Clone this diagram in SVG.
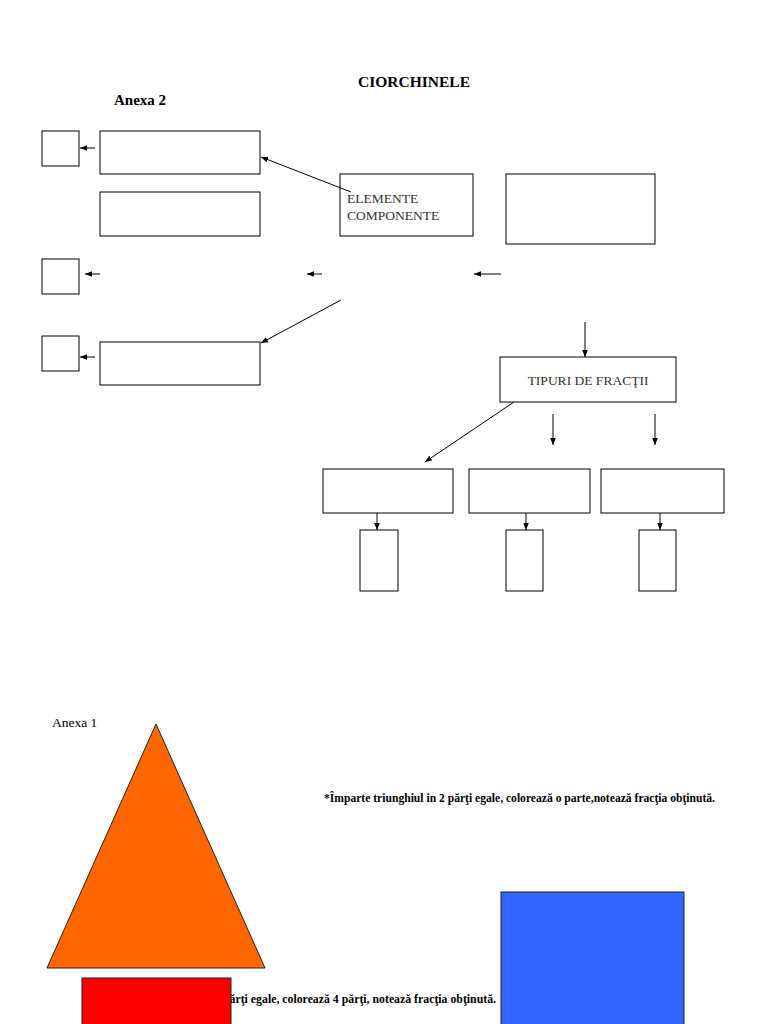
<svg xmlns="http://www.w3.org/2000/svg" width="768" height="1024" viewBox="0 0 768 1024">
<defs>
<style>
.box{fill:#fff;stroke:#000;stroke-width:1}
.ln{stroke:#000;stroke-width:1;fill:none}
.arr{stroke:#000;stroke-width:1;fill:none;marker-end:url(#ah)}
.t{font-family:"Liberation Serif","Times New Roman",serif;fill:#000}
.tb{font-family:"Liberation Serif","Times New Roman",serif;font-weight:bold;fill:#000}
.tg{font-family:"Liberation Serif","Times New Roman",serif;fill:#333}
</style>
<marker id="ah" viewBox="0 0 10 10" refX="10" refY="5" markerWidth="7" markerHeight="7" markerUnits="userSpaceOnUse" orient="auto">
<path d="M0,1 L10,5 L0,9 Z" fill="#000"/>
</marker>
</defs>
<rect width="768" height="1024" fill="#fff"/>
<text class="tb" x="414" y="87" font-size="15.5" text-anchor="middle">CIORCHINELE</text>
<text class="tb" x="114" y="105" font-size="15">Anexa 2</text>

<g id="sq1"><rect class="box" x="42" y="131" width="37" height="35"/></g>
<g id="boxA"><rect class="box" x="100" y="131" width="160" height="43"/></g>
<g id="boxB"><rect class="box" x="100" y="192" width="160" height="44"/></g>
<g id="elemente"><rect class="box" x="340" y="174" width="133" height="62"/>
<text class="tg" x="347" y="203" font-size="13.5">ELEMENTE</text>
<text class="tg" x="347" y="220" font-size="13.5">COMPONENTE</text></g>
<g id="boxR"><rect class="box" x="506" y="174" width="149" height="70"/></g>
<g id="sq2"><rect class="box" x="42" y="259" width="37" height="35"/></g>
<g id="sq3"><rect class="box" x="42" y="336" width="37" height="35"/></g>
<g id="boxC"><rect class="box" x="100" y="342" width="160" height="43"/></g>
<g id="tipuri"><rect class="box" x="500" y="357" width="176" height="45"/>
<text class="tg" x="588" y="385" font-size="13.5" text-anchor="middle">TIPURI DE FRACŢII</text></g>
<g id="f1"><rect class="box" x="323" y="469" width="130" height="44"/></g>
<g id="f2"><rect class="box" x="469" y="469" width="121" height="44"/></g>
<g id="f3"><rect class="box" x="601" y="469" width="123" height="44"/></g>
<g id="s1"><rect class="box" x="360" y="530" width="38" height="61"/></g>
<g id="s2"><rect class="box" x="506" y="530" width="37" height="61"/></g>
<g id="s3"><rect class="box" x="639" y="530" width="37" height="61"/></g>

<g id="connectors">
<line class="arr" x1="95" y1="148" x2="80" y2="148"/>
<line class="arr" x1="351" y1="192" x2="261" y2="157"/>
<line class="arr" x1="100" y1="274" x2="85" y2="274"/>
<line class="arr" x1="322" y1="274" x2="307" y2="274"/>
<line class="arr" x1="501" y1="274" x2="474" y2="274"/>
<line class="arr" x1="341" y1="300" x2="261" y2="343"/>
<line class="arr" x1="95" y1="357" x2="80" y2="357"/>
<line class="arr" x1="585" y1="322" x2="585" y2="357"/>
<line class="arr" x1="514" y1="402" x2="425" y2="462"/>
<line class="arr" x1="553" y1="414" x2="553" y2="445"/>
<line class="arr" x1="655" y1="414" x2="655" y2="445"/>
<line class="arr" x1="377" y1="513" x2="377" y2="530"/>
<line class="arr" x1="526" y1="513" x2="526" y2="530"/>
<line class="arr" x1="660" y1="513" x2="660" y2="530"/>
</g>

<text class="t" x="52" y="727" font-size="13.5">Anexa 1</text>
<polygon points="156,724 47,968 265,968" fill="#FF6600" stroke="#222" stroke-width="1"/>
<text class="tb" x="324" y="802" font-size="11.6">*Împarte triunghiul in 2 părţi egale, colorează o parte,notează fracţia obţinută.</text>
<text class="tb" x="223" y="1003" font-size="11.8">părţi egale, colorează 4 părţi, notează fracţia obţinută.</text>
<rect x="82" y="978" width="149" height="50" fill="#FF0000" stroke="#222" stroke-width="1"/>
<rect x="501" y="892" width="183" height="140" fill="#3366FF" stroke="#222" stroke-width="1"/>
</svg>
